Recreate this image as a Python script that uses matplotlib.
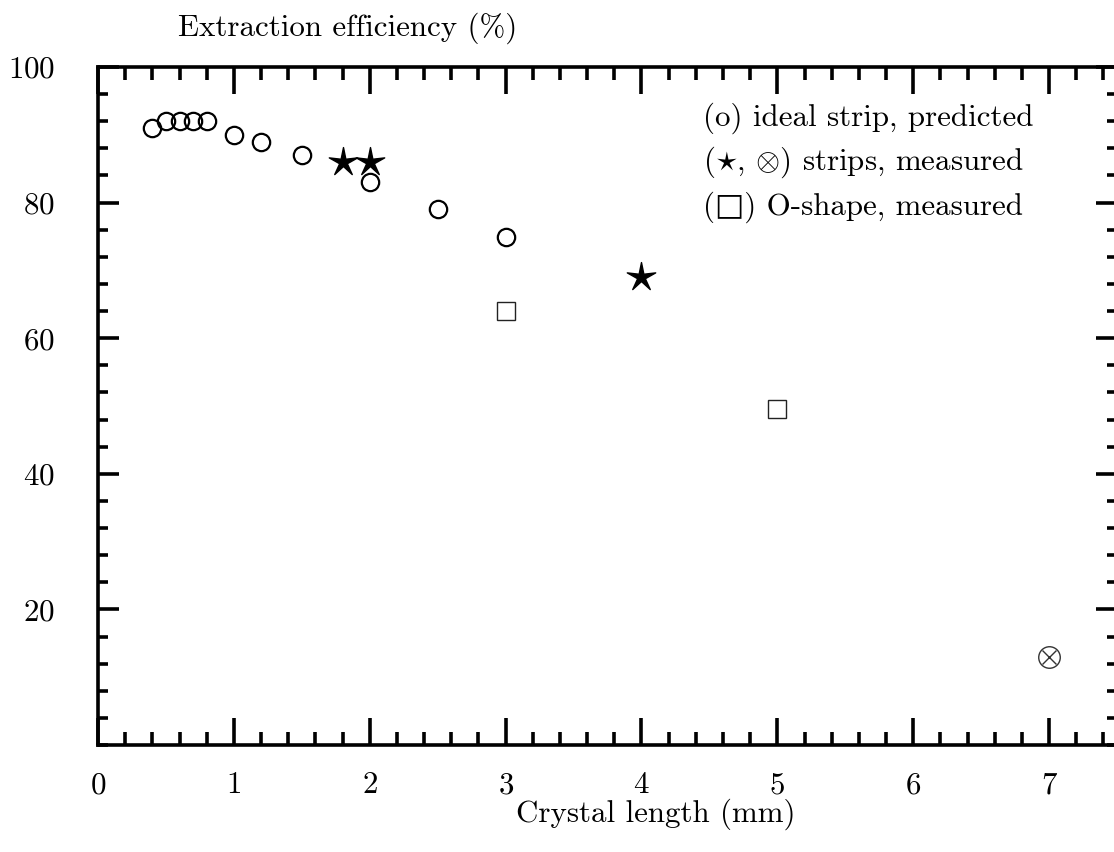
import matplotlib
matplotlib.use("Agg")
import matplotlib.pyplot as plt
import numpy as np
from matplotlib.path import Path
from matplotlib.ticker import MultipleLocator

plt.rcParams['font.family'] = 'cmr10'
plt.rcParams['mathtext.fontset'] = 'cm'
plt.rcParams['axes.formatter.use_mathtext'] = True

# Data
ideal_x = [0.4, 0.5, 0.6, 0.7, 0.8, 1.0, 1.2, 1.5, 2.0, 2.5, 3.0]
ideal_y = [91, 92, 92, 92, 92, 90, 89, 87, 83, 79, 75]
strip_x = [1.8, 2.0, 4.0]
strip_y = [86, 86, 69]
oshape_x = [3.0, 5.0]
oshape_y = [64, 49.5]
otimes_x = [7.0]
otimes_y = [13]
xticks = [0, 1, 2, 3, 4, 5, 6, 7]
yticks = [20, 40, 60, 80, 100]

# thin star marker shape
ang = np.pi / 2 + np.arange(10) * np.pi / 5
rad = np.where(np.arange(10) % 2 == 0, 1.0, 0.27)
verts = np.column_stack([rad * np.cos(ang), rad * np.sin(ang)])
verts = np.vstack([verts, verts[:1]])
codes = [Path.MOVETO] + [Path.LINETO] * 9 + [Path.CLOSEPOLY]
star = Path(verts, codes)

FS = 22.3
fig = plt.figure(figsize=(11.14, 8.52), dpi=100)
ax = fig.add_axes([98 / 1114, 1 - 745 / 852, (1117 - 98) / 1114, (745 - 67) / 852])
ax.set_xlim(0, 7.5)
ax.set_ylim(0, 100)

ax.plot(ideal_x, ideal_y, 'o', ms=12.5, mfc='none', mec='black', mew=1.6, ls='none')
ax.plot(strip_x, strip_y, marker=star, ms=21.5, color='black', ls='none')
ax.plot(oshape_x, oshape_y, 's', ms=12.5, mfc='none', mec='#222222', mew=1.0, ls='none')
ax.plot(otimes_x, otimes_y, 'o', ms=15.5, mfc='none', mec='#333333', mew=1.0, ls='none')
ax.plot(otimes_x, otimes_y, 'x', ms=10, mec='#333333', mew=1.0, ls='none')

for s in ax.spines.values():
    s.set_linewidth(2.6)
ax.set_xticks(xticks)
ax.set_yticks(yticks)
ax.xaxis.set_minor_locator(MultipleLocator(0.2))
ax.yaxis.set_minor_locator(MultipleLocator(4))
ax.tick_params(which='both', direction='in', top=True, right=True, width=2.6)
ax.tick_params(which='major', axis='x', length=19.5, pad=19)
ax.tick_params(which='minor', axis='x', length=9.5)
ax.tick_params(which='major', axis='y', length=15, pad=31)
ax.tick_params(which='minor', axis='y', length=7.5)
ax.tick_params(labelsize=FS)

ax.set_xlabel('Crystal length (mm)', fontsize=FS)
ax.xaxis.set_label_coords((656 - 98) / (1117 - 98), -(799 - 745) / (745 - 67))
ax.xaxis.label.set_va('top')
fig.text(178 / 1114, 1 - 28 / 852, 'Extraction efficiency (%)', fontsize=FS,
         ha='left', va='center')

leg_x = 703 / 1114
fig.text(leg_x, 1 - 118 / 852, '(o) ideal strip, predicted', fontsize=FS, va='center')
fig.text(leg_x, 1 - 162 / 852, r'($\star$, $\otimes$) strips, measured', fontsize=FS, va='center')
fig.text(leg_x, 1 - 207 / 852, '(\u25A1) O-shape, measured', fontsize=FS, va='center',
         family=['cmr10', 'DejaVu Sans'])

fig.savefig('out.png', dpi=100)
